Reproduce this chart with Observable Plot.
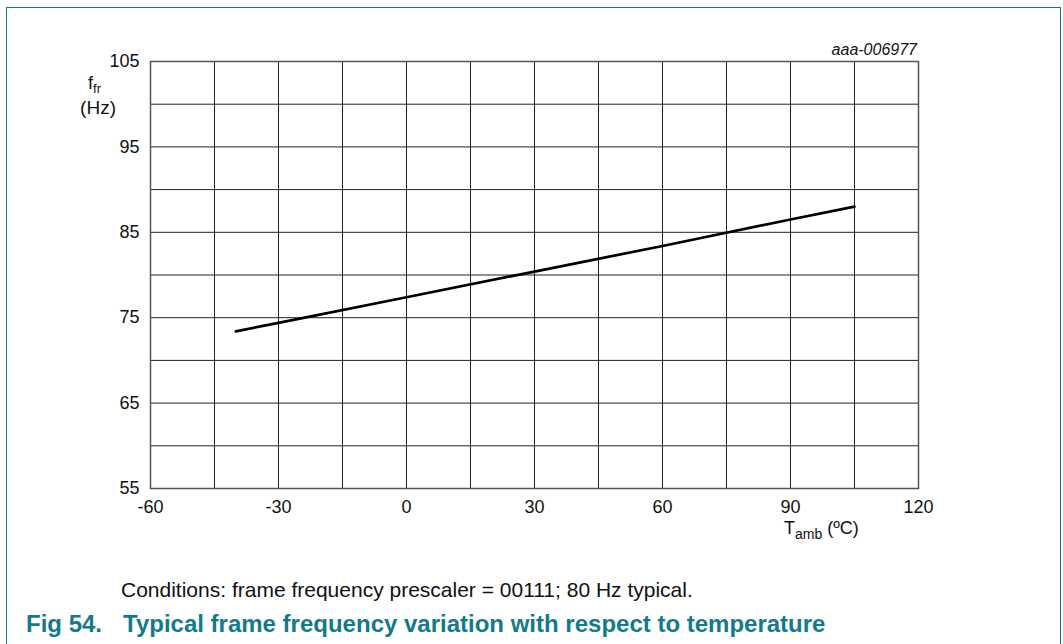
<!DOCTYPE html>
<html>
<head>
<meta charset="utf-8">
<script src="https://cdn.jsdelivr.net/npm/d3@7"></script>
<script src="https://cdn.jsdelivr.net/npm/@observablehq/plot@0.6"></script>
<style>
  html, body { margin: 0; padding: 0; background: #fff; }
  #wrap { position: relative; width: 1063px; height: 644px; overflow: hidden; font-family: "Liberation Sans", Arial, sans-serif; }
  #frame { position: absolute; left: 6px; top: 7px; width: 1055px; height: 700px; border: 1.5px solid #137a8c; box-sizing: border-box; }
  #chart { position: absolute; left: 0; top: 0; }
  #caption { position: absolute; left: 121px; top: 579px; font-size: 21px; line-height: 21px; color: #111; white-space: nowrap; }
  .title { position: absolute; top: 612px; font-size: 24px; line-height: 24px; font-weight: bold; color: #137a8c; white-space: nowrap; }
</style>
</head>
<body>
<div id="wrap">
  <div id="frame"></div>
  <div id="chart"></div>
  <div id="caption">Conditions: frame frequency prescaler = 00111; 80 Hz typical.</div>
  <div class="title" style="left:26px">Fig 54.</div>
  <div class="title" style="left:123px">Typical frame frequency variation with respect to temperature</div>
</div>
<script>
// Data
const temps = [-40, -30, 0, 30, 60, 90, 105];
const freqs = [73.4, 74.4, 77.4, 80.4, 83.4, 86.5, 88.0];

// Grid and ticks
const xGrid = [-45, -30, -15, 0, 15, 30, 45, 60, 75, 90, 105];
const yGrid = [60, 65, 70, 75, 80, 85, 90, 95, 100];
const xTicks = [-60, -30, 0, 30, 60, 90, 120];
const yTicks = [55, 65, 75, 85, 95, 105];

const data = temps.map((t, i) => ({t, f: freqs[i]}));

const chart = Plot.plot({
  width: 1063,
  height: 540,
  marginLeft: 150,
  marginRight: 145,
  marginTop: 61,
  marginBottom: 52,
  style: {fontFamily: "'Liberation Sans', Arial, sans-serif", fontSize: "18px", color: "#111", background: "transparent", overflow: "visible"},
  x: {domain: [-60, 120], ticks: xTicks, tickSize: 0, tickPadding: 12, label: null, tickFormat: d => String(d)},
  y: {domain: [55, 105], ticks: yTicks, tickSize: 0, tickPadding: 11, label: null, tickFormat: d => String(d)},
  marks: [
    Plot.ruleX(xGrid, {stroke: "#222", strokeWidth: 1}),
    Plot.ruleY(yGrid, {stroke: "#222", strokeWidth: 1}),
    Plot.frame({stroke: "#555", strokeWidth: 1.5}),
    Plot.line(data, {x: "t", y: "f", stroke: "#000", strokeWidth: 2.7})
  ]
});
document.getElementById("chart").appendChild(chart);

const svg = d3.select(chart);
// y-axis label f_fr (Hz)
const yl = svg.append("text").attr("x", 88).attr("y", 89).attr("text-anchor", "start").attr("font-size", 18).attr("fill", "#111");
yl.append("tspan").text("f");
yl.append("tspan").attr("font-size", 13).attr("dy", 4).text("fr");
svg.append("text").attr("x", 116).attr("y", 114).attr("text-anchor", "end").attr("font-size", 19).attr("fill", "#111").text("(Hz)");
// x-axis label T_amb (ºC)
const xl = svg.append("text").attr("x", 784).attr("y", 534).attr("text-anchor", "start").attr("font-size", 18).attr("fill", "#111");
xl.append("tspan").text("T");
xl.append("tspan").attr("font-size", 14).attr("dy", 5).text("amb");
xl.append("tspan").attr("dy", -5).text(" (ºC)");
// figure code
svg.append("text").attr("x", 917).attr("y", 55).attr("text-anchor", "end").attr("font-size", 16).attr("font-style", "italic").attr("fill", "#111").text("aaa-006977");
</script>
</body>
</html>
